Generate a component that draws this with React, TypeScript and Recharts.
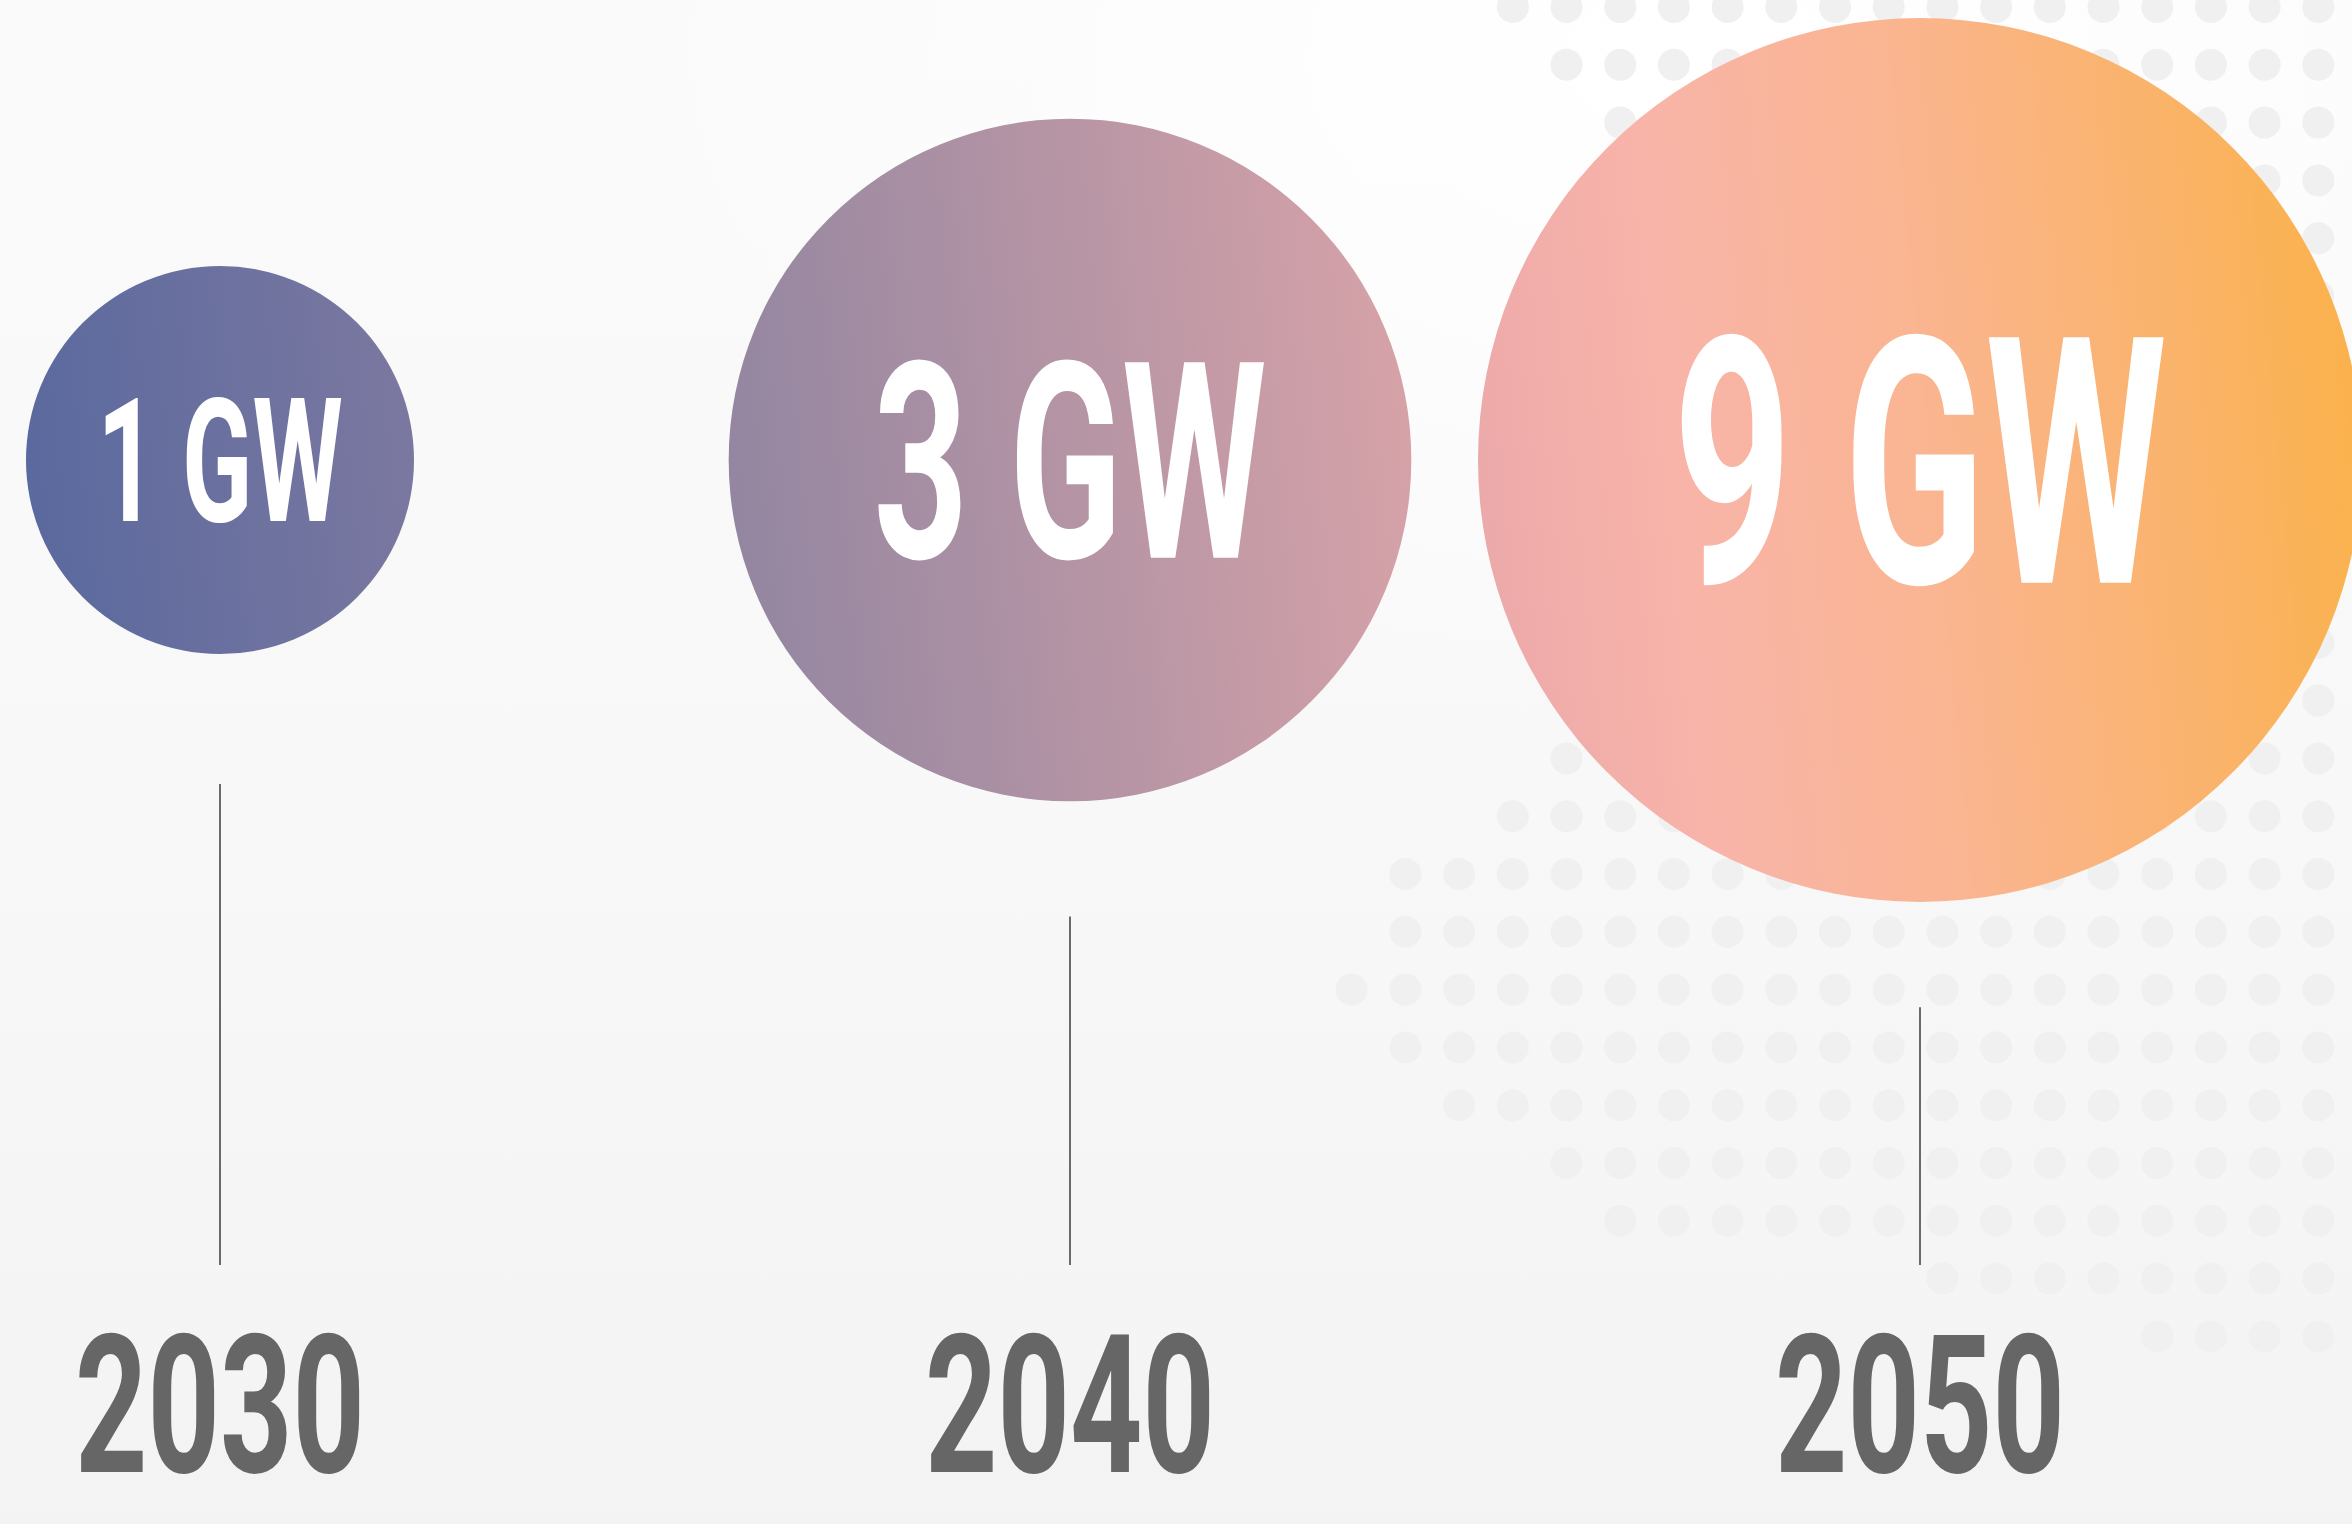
import React from 'react';
import { ScatterChart, Scatter, XAxis, YAxis, ZAxis, Cell } from 'recharts';

const years = [2030, 2040, 2050];
const capacityGW = [1, 3, 9];
const capacityLabels = ['1 GW', '3 GW', '9 GW'];

const data = years.map((year, i) => ({ year, gw: capacityGW[i], label: capacityLabels[i] }));

const WIDTH = 2352;
const HEIGHT = 1524;
const AXIS_HEIGHT = 604;
const LINE_BOTTOM = 1265;
const YEAR_SIZE = 194;
const FONT = 'Roboto, "Liberation Sans", sans-serif';

// one horizontal gradient per bubble, blue-violet on the left to orange on the right
const bubbleStops: [string, string][][] = [
  [['0%', '#5a699e'], ['100%', '#7b78a0']],
  [['0%', '#9386a1'], ['100%', '#d6a2a8']],
  [['0%', '#eca9aa'], ['22%', '#f8b4a9'], ['50%', '#fab592'], ['80%', '#fab36a'], ['100%', '#fbb24c']],
];

// decorative dot field behind the big bubble: [first column, last column] per row
const dotRows: [number, number][] = [
  [3, 18], [4, 18], [5, 18], [6, 18], [6, 18], [6, 18], [6, 18], [6, 18], [6, 18], [6, 18],
  [6, 18], [6, 18], [6, 18], [4, 18], [3, 18], [1, 18], [1, 18], [0, 18], [1, 18], [2, 18],
  [4, 18], [5, 18], [11, 18], [15, 18],
];

// condensed look: measure the text in Roboto bold and squeeze it horizontally
let measureCtx: CanvasRenderingContext2D | null = null;
const textWidth = (text: string, size: number) => {
  if (!measureCtx) measureCtx = document.createElement('canvas').getContext('2d');
  if (!measureCtx) return text.length * size * 0.56;
  measureCtx.font = `700 ${size}px Roboto`;
  return measureCtx.measureText(text).width;
};

const CondensedText = ({ x, y, text, size, width, fill }: any) => {
  const sx = width / textWidth(text, size);
  return (
    <text
      transform={`translate(${x} ${y}) scale(${sx} 1)`}
      textAnchor="middle"
      fill={fill}
      fontFamily={FONT}
      fontWeight={700}
      fontSize={size}
    >
      {text}
    </text>
  );
};

const DotField = () => (
  <svg width={WIDTH} height={HEIGHT} style={{ position: 'absolute', left: 0, top: 0 }}>
    {dotRows.map(([from, to], row) =>
      Array.from({ length: to - from + 1 }, (_, j) => (
        <circle
          key={`${row}-${j}`}
          cx={1351.7 + (from + j) * 53.7}
          cy={7 + row * 57.8}
          r={16}
          fill="#f0f0f0"
        />
      ))
    )}
  </svg>
);

const Bubble = (props: any) => {
  const { cx, cy, size, width, fill, payload } = props;
  const r = size ? Math.sqrt(size / Math.PI) : width / 2;
  const fs = 36 + 0.7 * r;
  const gap = 130 - 0.1 * (r - 194);
  return (
    <g>
      <line x1={cx} x2={cx} y1={cy + r + gap} y2={LINE_BOTTOM} stroke="#6a6a6a" strokeWidth={2} />
      <circle cx={cx} cy={cy} r={r} fill={fill} />
      <CondensedText
        x={cx}
        y={cy + (fs * 0.711) / 2}
        text={payload.label}
        size={fs}
        width={fs * 1.43}
        fill="#ffffff"
      />
    </g>
  );
};

// year labels sit at the very bottom; keep the whole text box inside the picture
const YearTick = ({ x, y, payload }: any) => (
  <CondensedText
    x={x}
    y={y + AXIS_HEIGHT - YEAR_SIZE * 0.25 - 4}
    text={String(payload.value)}
    size={YEAR_SIZE}
    width={290}
    fill="#666666"
  />
);

const App: React.FC = () => {
  return (
    <div
      style={{
        position: 'relative',
        width: WIDTH,
        height: HEIGHT,
        overflow: 'hidden',
        background:
          'radial-gradient(ellipse 1100px 650px at 1700px 60px, #ffffff 0%, rgba(255,255,255,0.6) 50%, rgba(255,255,255,0) 100%), linear-gradient(180deg, #fafafa 0%, #f8f8f8 55%, #f3f3f3 100%)',
      }}
    >
      <style>{'body{margin:0;}'}</style>
      <DotField />
      <div style={{ position: 'absolute', left: 0, top: 0 }}>
        <ScatterChart width={WIDTH} height={HEIGHT} margin={{ top: 0, right: 432, bottom: 0, left: 220 }}>
          <defs>
            {bubbleStops.map((stops, i) => (
              <linearGradient key={i} id={`bubbleGrad${i}`} x1="0" y1="0.55" x2="1" y2="0.45">
                {stops.map(([offset, color]) => (
                  <stop key={offset} offset={offset} stopColor={color} />
                ))}
              </linearGradient>
            ))}
          </defs>
          <XAxis
            type="number"
            dataKey="year"
            domain={[2030, 2050]}
            ticks={years}
            interval={0}
            tick={<YearTick />}
            tickLine={false}
            axisLine={false}
            tickSize={0}
            tickMargin={0}
            height={AXIS_HEIGHT}
          />
          <YAxis type="number" dataKey={() => 0} domain={[-1, 1]} hide />
          <ZAxis
            type="number"
            dataKey="gw"
            scale="log"
            domain={[1, 9]}
            range={[Math.PI * 194 * 194, Math.PI * 442 * 442]}
          />
          <Scatter data={data} shape={(p: any) => <Bubble {...p} />} isAnimationActive={false}>
            {data.map((d, i) => (
              <Cell key={d.year} fill={`url(#bubbleGrad${i})`} />
            ))}
          </Scatter>
        </ScatterChart>
      </div>
    </div>
  );
};

export default App;
